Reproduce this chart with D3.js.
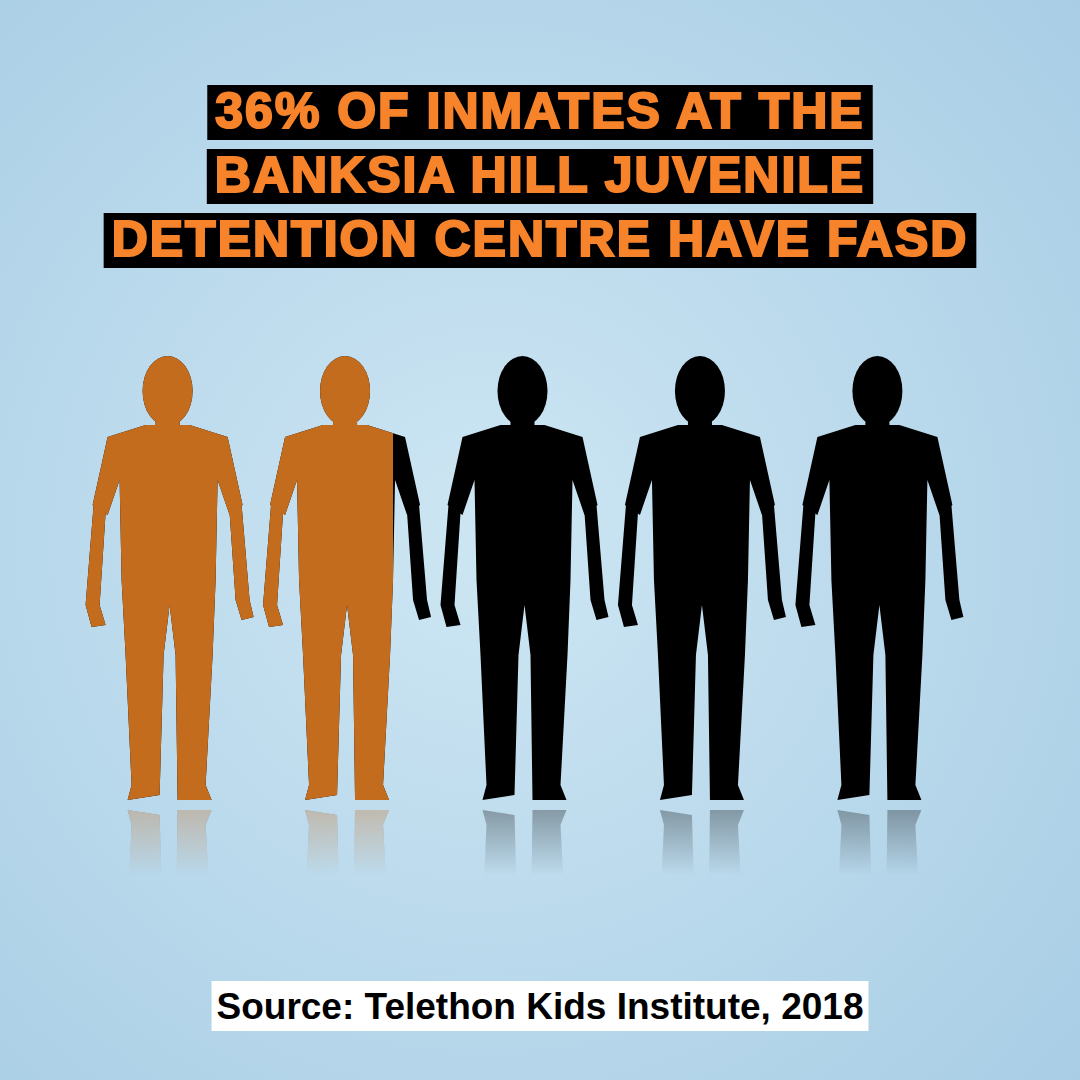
<!DOCTYPE html>
<html><head><meta charset="utf-8">
<script src="https://cdn.jsdelivr.net/npm/d3@7"></script>
<style>html,body{margin:0;padding:0;overflow:hidden}</style>
</head><body>
<svg id="chart" width="1080" height="1080"></svg>
<script>
const titleLines = ["36% OF INMATES AT THE", "BANKSIA HILL JUVENILE", "DETENTION CENTRE HAVE FASD"];
const sourceText = "Source: Telethon Kids Institute, 2018";
const sharePct = 36;
const figureCount = 5;

const svg = d3.select('#chart');
const defs = svg.append('defs');

const bg = defs.append('radialGradient').attr('id', 'bg').attr('cx', '45%').attr('cy', '50%').attr('r', '75%');
bg.append('stop').attr('offset', '0%').attr('stop-color', '#cde6f3');
bg.append('stop').attr('offset', '100%').attr('stop-color', '#a8cde5');
svg.append('rect').attr('width', 1080).attr('height', 1080).attr('fill', 'url(#bg)');

const fade = defs.append('linearGradient').attr('id', 'fade').attr('x1', 0).attr('y1', 0).attr('x2', 0).attr('y2', 1);
fade.append('stop').attr('offset', '0').attr('stop-color', '#fff').attr('stop-opacity', 0.35);
fade.append('stop').attr('offset', '0.25').attr('stop-color', '#fff').attr('stop-opacity', 0);
defs.append('mask').attr('id', 'fadeMask').attr('maskContentUnits', 'userSpaceOnUse')
  .append('rect').attr('x', 0).attr('y', 800).attr('width', 1080).attr('height', 300).attr('fill', 'url(#fade)');

// title
const titleY = [128, 192, 256];
titleLines.forEach((t, i) => {
  const g = svg.append('g');
  const txt = g.append('text').attr('x', 540).attr('y', titleY[i]).attr('text-anchor', 'middle')
    .attr('font-family', 'Liberation Sans, Arial, sans-serif').attr('font-weight', 900)
    .attr('font-size', 50).attr('fill', '#f7832a').attr('stroke', '#f7832a').attr('stroke-width', 2.2)
    .attr('letter-spacing', 2).text(t);
  const bb = txt.node().getBBox();
  g.insert('rect', 'text').attr('x', bb.x - 8).attr('y', titleY[i] - 43).attr('width', bb.width + 16).attr('height', 55).attr('fill', '#000');
});

// pictograph
const band = d3.scaleBand().domain(d3.range(figureCount)).range([70, 975]).padding(0.1);
const line = d3.line().curve(d3.curveLinearClosed);

const body = [
  [-22,70],[22,70],[60,82],[75,150],[62,160],[50,125],[48,225],[45,300],[38,430],[44,445],[10,445],[8,300],[2,250],[-4,300],[-8,440],[-40,445],[-36,430],[-42,300],[-46,225],[-48,125],[-60,160],[-75,150],[-60,82]
];
const armL = [[-74,150],[-62,158],[-68,250],[-62,270],[-76,272],[-82,250]];
const armR = [[74,150],[62,158],[68,245],[74,265],[86,262],[82,245]];

function drawFigure(g, i) {
  const cx = band(i) + band.bandwidth() / 2;
  const f = g.append('g').attr('transform', `translate(${cx},355)`);
  f.append('ellipse').attr('cx', 0).attr('cy', 36).attr('rx', 25).attr('ry', 35);
  f.append('rect').attr('x', -12).attr('y', 60).attr('width', 24).attr('height', 20);
  f.append('path').attr('d', line(body));
  f.append('path').attr('d', line(armL));
  f.append('path').attr('d', line(armR));
}

function drawAll(parent, fill) {
  const g = parent.append('g').attr('fill', fill);
  d3.range(figureCount).forEach(i => drawFigure(g, i));
  return g;
}

// share boundary: sharePct of all figures
const filled = sharePct / 100 * figureCount;
const cut = band(Math.floor(filled)) + band.bandwidth() * (filled % 1);
defs.append('clipPath').attr('id', 'share').append('rect')
  .attr('x', 0).attr('y', 0).attr('width', cut).attr('height', 1080);

// reflections
const refl = svg.append('g').attr('mask', 'url(#fadeMask)').append('g').attr('transform', 'translate(0,1610) scale(1,-1)');
drawAll(refl, '#000');
drawAll(refl.append('g').attr('clip-path', 'url(#share)'), '#c46c1e');

drawAll(svg, '#000');
drawAll(svg.append('g').attr('clip-path', 'url(#share)'), '#c46c1e');

// source
const sg = svg.append('g');
const st = sg.append('text').attr('x', 540).attr('y', 1019).attr('text-anchor', 'middle')
  .attr('font-family', 'Liberation Sans, Arial, sans-serif').attr('font-weight', 700)
  .attr('font-size', 37).attr('fill', '#000').text(sourceText);
const sb = st.node().getBBox();
sg.insert('rect', 'text').attr('x', sb.x - 5).attr('y', 981).attr('width', sb.width + 10).attr('height', 50).attr('fill', '#fff');
</script>
</body></html>
